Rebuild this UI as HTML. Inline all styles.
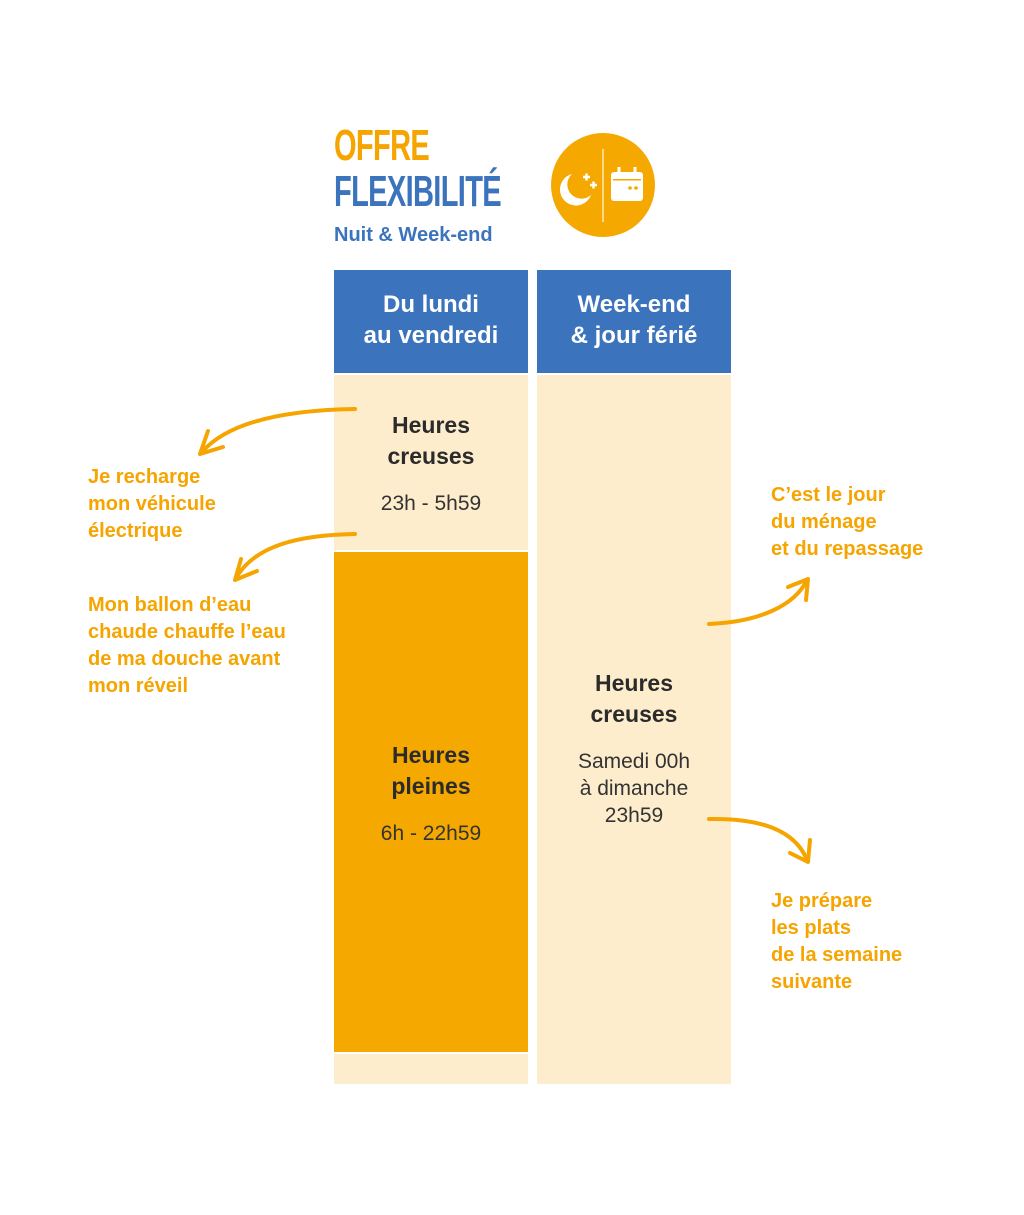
<!DOCTYPE html>
<html><head><meta charset="utf-8"><style>
body{margin:0;width:1024px;height:1215px;background:#fff;position:relative;font-family:"Liberation Sans",sans-serif;overflow:hidden}
.a{position:absolute}
.hd{background:#3b74bd;color:#fff;font-weight:bold;font-size:24px;text-align:center;line-height:31px;padding-top:19px;box-sizing:border-box}
.t{font-weight:bold;font-size:23px;color:#2b2b2b;text-align:center;line-height:31px}
.s{font-size:21px;color:#333;text-align:center;line-height:27px}
.o{color:#f5a400;font-weight:bold;font-size:20px;line-height:27px}
</style></head><body>
<div class="a" style="left:334px;top:122px;font-size:44px;font-weight:bold;color:#f5a400;transform:scaleX(0.66);transform-origin:left;letter-spacing:-1px;line-height:48px">OFFRE</div>
<div class="a" style="left:334px;top:168px;font-size:44px;font-weight:bold;color:#3b74bd;transform:scaleX(0.66);transform-origin:left;letter-spacing:-1px;line-height:48px">FLEXIBILITÉ</div>
<div class="a" style="left:334px;top:224px;font-size:20px;font-weight:bold;color:#3b74bd">Nuit &amp; Week-end</div>
<svg class="a" style="left:550px;top:132px" width="106" height="106" viewBox="0 0 106 106">
<circle cx="53" cy="53" r="52" fill="#f5a800"/>
<line x1="53" y1="17" x2="53" y2="90" stroke="#fde7b5" stroke-width="1.5"/>
<path d="M22 42 A16 16 0 1 0 41 63 A13 13 0 0 1 22 42Z" fill="#fff"/>
<path d="M33 45h7M36.5 41.5v7M40 53h7M43.5 49.5v7" stroke="#fff" stroke-width="2.4"/>
<rect x="61" y="40" width="32" height="29" rx="3" fill="#fff"/>
<line x1="69" y1="35" x2="69" y2="42" stroke="#fff" stroke-width="3"/><line x1="85" y1="35" x2="85" y2="42" stroke="#fff" stroke-width="3"/>
<rect x="63" y="47" width="28" height="1.5" fill="#f5a800"/>
<circle cx="80" cy="56" r="1.8" fill="#f5a800"/><circle cx="86" cy="56" r="1.8" fill="#f5a800"/>
</svg>
<div class="a hd" style="left:334px;top:270px;width:194px;height:103px">Du lundi<br>au vendredi</div>
<div class="a hd" style="left:537px;top:270px;width:194px;height:103px">Week-end<br>&amp; jour férié</div>
<div class="a" style="left:334px;top:375px;width:194px;height:175px;background:#fdedcc"></div>
<div class="a" style="left:334px;top:552px;width:194px;height:500px;background:#f5a800"></div>
<div class="a" style="left:334px;top:1054px;width:194px;height:30px;background:#fdedcc"></div>
<div class="a" style="left:537px;top:375px;width:194px;height:709px;background:#fdedcc"></div>
<div class="a t" style="left:334px;top:410px;width:194px">Heures<br>creuses</div>
<div class="a s" style="left:334px;top:490px;width:194px">23h - 5h59</div>
<div class="a t" style="left:334px;top:740px;width:194px">Heures<br>pleines</div>
<div class="a s" style="left:334px;top:820px;width:194px">6h - 22h59</div>
<div class="a t" style="left:537px;top:668px;width:194px">Heures<br>creuses</div>
<div class="a s" style="left:537px;top:748px;width:194px">Samedi 00h<br>à dimanche<br>23h59</div>
<div class="a o" style="left:88px;top:464px">Je recharge<br>mon véhicule<br>électrique</div>
<div class="a o" style="left:88px;top:592px">Mon ballon d’eau<br>chaude chauffe l’eau<br>de ma douche avant<br>mon réveil</div>
<div class="a o" style="left:771px;top:482px">C’est le jour<br>du ménage<br>et du repassage</div>
<div class="a o" style="left:771px;top:888px">Je prépare<br>les plats<br>de la semaine<br>suivante</div>
<svg class="a" style="left:0;top:0" width="1024" height="1215" fill="none" stroke="#f5a400" stroke-width="4" stroke-linecap="round" stroke-linejoin="round">
<path d="M355 409 C290 410 230 420 202 452"/><path d="M208 431 L200 454 L223 447"/>
<path d="M355 534 C300 535 255 545 236 578"/><path d="M241 559 L235 580 L257 571"/>
<path d="M709 624 C760 622 795 605 807 580"/><path d="M788 587 L808 579 L806 600"/>
<path d="M709 819 C760 818 795 830 807 860"/><path d="M790 853 L808 862 L810 840"/>
</svg>
</body></html>
